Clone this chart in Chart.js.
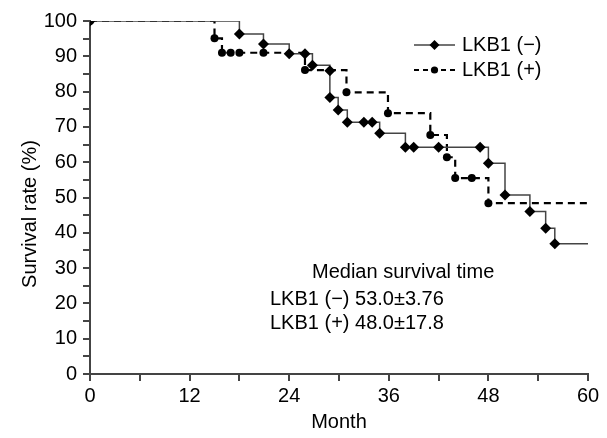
<!DOCTYPE html>
<html>
<head>
<meta charset="utf-8">
<script src="https://cdn.jsdelivr.net/npm/chart.js@4.4.1/dist/chart.umd.min.js"></script>
<style>
  html, body { margin: 0; padding: 0; background: #fff; }
</style>
</head>
<body>
<canvas id="survivalchart" width="607" height="438"></canvas>
<script>
// Kaplan-Meier curves
var negMonths   = [0, 18.0, 20.9, 24.0, 25.9, 26.8, 28.9, 28.9, 29.9, 31.0, 33.0, 34.0, 34.9, 38.0, 39.0, 42.0, 47.0, 48.0, 50.0, 53.0, 54.9, 56.0, 60]
var negSurvival = [100, 96.3, 93.5, 90.7, 90.7, 87.5, 85.9, 78.3, 74.8, 71.3, 71.3, 71.3, 68.2, 64.2, 64.2, 64.2, 64.2, 59.7, 50.7, 46.0, 41.3, 36.9, 36.9]

var posMonths   = [0, 15.0, 15.9, 16.95, 18.0, 20.9, 25.9, 30.9, 35.9, 41.0, 43.0, 44.0, 46.0, 48.0, 60]
var posSurvival = [100, 95.1, 91.0, 91.0, 91.0, 91.0, 86.1, 79.8, 73.9, 67.7, 61.4, 55.5, 55.5, 48.4, 48.4]

var seriesLabels = ['LKB1 (\u2212)', 'LKB1 (+)']
var medianTitle = 'Median survival time'
var medianLines = ['LKB1 (\u2212) 53.0\u00b13.76', 'LKB1 (+) 48.0\u00b117.8']

var xMin = 0, xMax = 60, xStep = 6, xLabelEvery = 12
var yMin = 0, yMax = 100, yStep = 5, yLabelEvery = 10

var FONT = "'Liberation Sans', Arial, sans-serif"
var AXIS = '#444'

function toPoints(xs, ys) {
    return xs.map(function (x, i) { return { x: x, y: ys[i] } })
}

function lastHidden(r) {
    return function (c) { return c.dataIndex === c.dataset.data.length - 1 ? 0 : r }
}

var extras = {
    id: 'extras',
    afterDraw: function (chart) {
        var ctx = chart.ctx
        ctx.save()
        ctx.fillStyle = '#000'
        ctx.font = '20px ' + FONT
        ctx.textBaseline = 'middle'

        // y axis title
        ctx.save()
        ctx.translate(30, 214)
        ctx.rotate(-Math.PI / 2)
        ctx.textAlign = 'center'
        ctx.fillText('Survival rate (%)', 0, 0)
        ctx.restore()

        // legend
        var rows = [
            { y: 45, dash: [], width: 1.5, color: '#444', style: 'diamond' },
            { y: 70, dash: [5, 4], width: 2.2, color: '#000', style: 'circle' }
        ]
        rows.forEach(function (r, i) {
            ctx.save()
            ctx.strokeStyle = r.color
            ctx.lineWidth = r.width
            ctx.setLineDash(r.dash)
            ctx.beginPath()
            ctx.moveTo(414, r.y)
            ctx.lineTo(455, r.y)
            ctx.stroke()
            ctx.restore()
            ctx.beginPath()
            if (r.style === 'diamond') {
                ctx.moveTo(434.5, r.y - 5)
                ctx.lineTo(439.5, r.y)
                ctx.lineTo(434.5, r.y + 5)
                ctx.lineTo(429.5, r.y)
                ctx.closePath()
            } else {
                ctx.arc(434.5, r.y, 3.6, 0, Math.PI * 2)
            }
            ctx.fill()
            ctx.textAlign = 'left'
            ctx.fillText(seriesLabels[i], 462, r.y)
        })

        // median survival annotation
        ctx.textAlign = 'left'
        ctx.fillText(medianTitle, 312, 272)
        ctx.fillText(medianLines[0], 270, 299)
        ctx.fillText(medianLines[1], 270, 323)
        ctx.restore()
    }
}

var ctx = document.getElementById('survivalchart')

var survivalChart = new Chart(ctx, {
    type: 'line',
    data: {
        datasets: [{
            label: seriesLabels[0],
            data: toPoints(negMonths, negSurvival),
            stepped: 'before',
            borderColor: '#444',
            borderWidth: 1.5,
            pointStyle: 'rectRot',
            pointRadius: lastHidden(5.5),
            pointBackgroundColor: '#000',
            pointBorderColor: '#000',
            pointBorderWidth: 0
        }, {
            label: seriesLabels[1],
            data: toPoints(posMonths, posSurvival),
            stepped: 'before',
            borderColor: '#000',
            borderWidth: 2.2,
            borderDash: [7, 5],
            pointStyle: 'circle',
            pointRadius: lastHidden(4),
            pointBackgroundColor: '#000',
            pointBorderColor: '#000',
            pointBorderWidth: 0
        }]
    },
    options: {
        responsive: false,
        animation: false,
        layout: { padding: { top: 21, right: 19, bottom: 0, left: 0 } },
        plugins: {
            legend: { display: false },
            tooltip: { enabled: false }
        },
        scales: {
            x: {
                type: 'linear',
                min: xMin,
                max: xMax,
                border: { color: AXIS, width: 2 },
                grid: { drawOnChartArea: false, drawTicks: true, tickLength: 7, color: AXIS, lineWidth: 2 },
                ticks: {
                    stepSize: xStep,
                    autoSkip: false,
                    maxRotation: 0,
                    padding: 3,
                    color: '#000',
                    font: { family: FONT, size: 20 },
                    callback: function (v) { return v % xLabelEvery === 0 ? String(v) : '' }
                },
                title: {
                    display: true,
                    text: 'Month',
                    color: '#000',
                    font: { family: FONT, size: 20 },
                    padding: { top: 0, bottom: 4 }
                },
                afterFit: function (scale) { scale.height = 64 }
            },
            y: {
                min: yMin,
                max: yMax,
                border: { color: AXIS, width: 2 },
                grid: { drawOnChartArea: false, drawTicks: true, tickLength: 7, color: AXIS, lineWidth: 2 },
                ticks: {
                    stepSize: yStep,
                    autoSkip: false,
                    padding: 6,
                    color: '#000',
                    font: { family: FONT, size: 20 },
                    callback: function (v) { return v % yLabelEvery === 0 ? String(v) : '' }
                },
                afterFit: function (scale) { scale.width = 90 }
            }
        }
    },
    plugins: [extras]
})
</script>
</body>
</html>
